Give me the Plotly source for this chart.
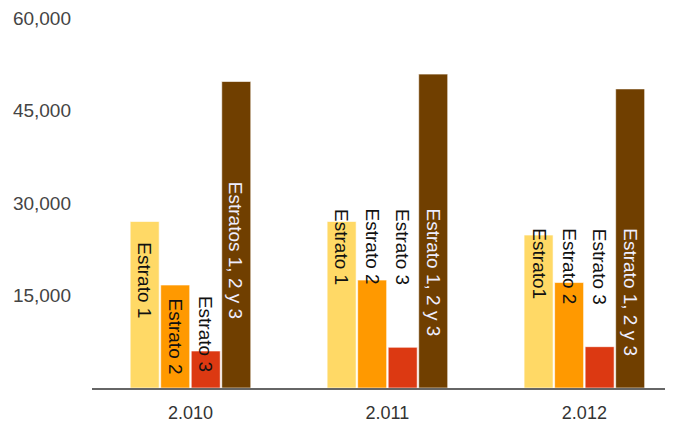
import plotly.graph_objects as go

years = ["2.010", "2.011", "2.012"]
series_names = ["Estrato 1", "Estrato 2", "Estrato 3", "Estratos 1, 2 y 3"]
estrato1 = [27000, 27000, 24800]
estrato2 = [16700, 17500, 17100]
estrato3 = [6000, 6600, 6700]
estratos_total = [49700, 50900, 48500]
tick_vals = [15000, 30000, 45000, 60000]
tick_text = ["15,000", "30,000", "45,000", "60,000"]

# label texts per year (as printed in the chart)
label_texts = [
    ["Estrato 1", "Estrato 2", "Estrato 3", "Estratos 1, 2 y 3"],
    ["Estrato 1", "Estrato 2", "Estrato 3", "Estrato 1, 2 y 3"],
    ["Estrato1", "Estrato 2", "Estrato 3", "Estrato 1, 2 y 3"],
]
# top of each rotated label, in axis units
label_tops = [
    [24000, 14800, 15300, 33800],
    [29400, 29400, 29400, 29400],
    [26200, 26200, 26200, 26200],
]

colors = ["#FFD966", "#FF9900", "#DC3912", "#703F00"]
label_colors = ["#111111", "#111111", "#111111", "#EEEEFF"]
series = [estrato1, estrato2, estrato3, estratos_total]

bargap = 0.38
bargroupgap = 0.05

fig = go.Figure()
for name, vals, c in zip(series_names, series, colors):
    fig.add_trace(go.Bar(x=years, y=vals, name=name,
                         marker=dict(color=c, line=dict(color="rgba(255,255,255,0.6)", width=1))))

slot = (1 - bargap) / 4
annotations = []
for i, year in enumerate(years):
    for k in range(4):
        annotations.append(dict(
            x=i + (k - 1.5) * slot, y=label_tops[i][k], xref="x", yref="y",
            text=label_texts[i][k], textangle=90, showarrow=False,
            xanchor="center", yanchor="top",
            font=dict(family="Liberation Sans, Arial", size=19, color=label_colors[k]),
        ))

fig.update_layout(
    width=665, height=415,
    margin=dict(l=84, r=0, t=10, b=35),
    paper_bgcolor="white", plot_bgcolor="white",
    barmode="group", bargap=bargap, bargroupgap=bargroupgap,
    showlegend=False,
    annotations=annotations,
    font=dict(family="Liberation Sans, Arial", color="#444444"),
)
fig.update_xaxes(
    type="category", range=[-0.5, 2.45], showgrid=False,
    showline=True, linecolor="#666666", linewidth=2,
    ticks="", tickfont=dict(size=18, color="#333333"), ticklabelstandoff=7,
)
fig.update_yaxes(
    range=[0, 60000], showgrid=False, zeroline=False, showline=False,
    tickvals=tick_vals, ticktext=tick_text, ticklabeloverflow="allow",
    tickfont=dict(size=19, color="#444444"), ticklabelstandoff=20,
)

fig.write_html("out.html")
